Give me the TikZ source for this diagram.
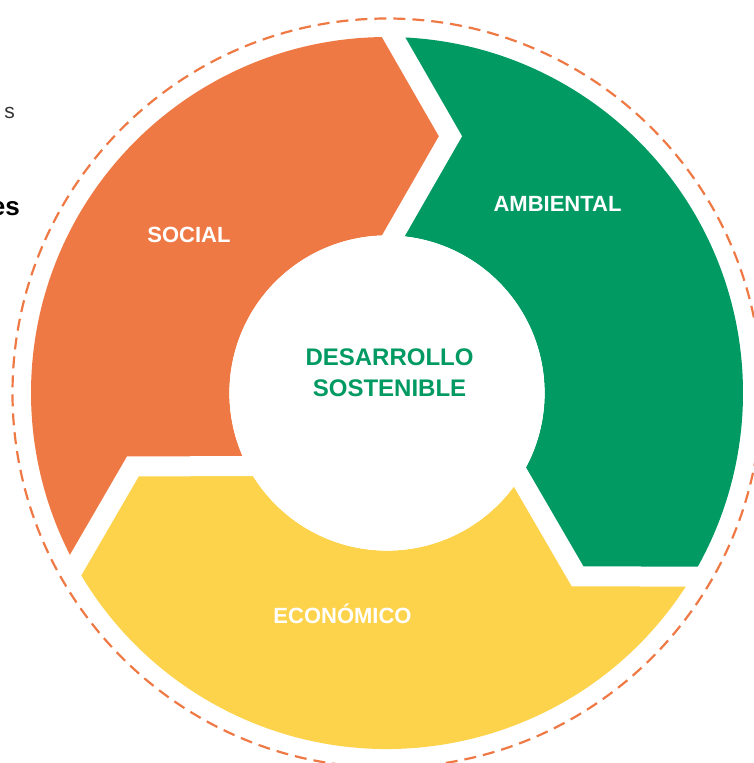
\documentclass[tikz,border=0pt]{standalone}
\usepackage{fontspec}
\setmainfont{Liberation Sans}
\usetikzlibrary{calc}
\definecolor{cOrange}{HTML}{EF7944}
\definecolor{cGreen}{HTML}{009A62}
\definecolor{cYellow}{HTML}{FDD34B}
\definecolor{cText}{HTML}{333333}
\begin{document}
\begin{tikzpicture}[x=1pt,y=1pt,
  gapline/.style={draw=white,line width=20pt,line join=miter,line cap=butt},
  lbl/.style={text=white,font=\bfseries\fontsize{22}{26}\selectfont,inner sep=0pt,anchor=base},
  center label/.style={text=cGreen,font=\bfseries\fontsize{24}{31}\selectfont,inner sep=0pt,align=center},
  ring dash/.style={draw=cOrange,line width=2.2pt,dash pattern=on 12pt off 7pt},
]
\useasboundingbox (0,0) rectangle (753,-763);
\begin{scope}[shift={(387,-393)}]
  \coordinate (Ot) at (88.954:356);
  \coordinate (At) at (76.11:264.5);
  \coordinate (It) at (87.637:157.6);
  \coordinate (Obl) at (208.954:356);
  \coordinate (Abl) at (196.11:264.5);
  \coordinate (Ibl) at (207.637:157.6);
  \coordinate (Obr) at (-31.046:356);
  \coordinate (Abr) at (-43.89:264.5);
  \coordinate (Ibr) at (-32.363:157.6);
  % segments
  \fill[cOrange] (Ot) arc[start angle=88.954,end angle=208.954,radius=356]
     -- (Abl) -- (Ibl) arc[start angle=207.637,end angle=87.637,radius=157.6]
     -- (At) -- cycle;
  \fill[cGreen] (Ot) arc[start angle=88.954,end angle=-31.046,radius=356]
     -- (Abr) -- (Ibr) arc[start angle=-32.363,end angle=87.637,radius=157.6]
     -- (At) -- cycle;
  \fill[cYellow] (Obr) arc[start angle=-31.046,end angle=-151.046,radius=356]
     -- (Abl) -- (Ibl) arc[start angle=-152.363,end angle=-32.363,radius=157.6]
     -- (Abr) -- cycle;
\end{scope}
% gaps
\draw[gapline] ($(At)!1.15!(Ot)$) -- (Ot) -- (At) -- (It) -- ($(At)!1.15!(It)$);
\draw[gapline] ($(Abr)!1.15!(Obr)$) -- (Obr) -- (Abr) -- (Ibr) -- ($(Abr)!1.15!(Ibr)$);
\draw[gapline] ($(Abl)!1.15!(Obl)$) -- (Obl) -- (Abl) -- (Ibl) -- ($(Abl)!1.15!(Ibl)$);
\fill[white] (387,-393) circle[radius=157.6];
% dashed outer circle
\draw[ring dash] (387,-393) circle[radius=374.5];
% labels
\node[lbl] (social) at (189,-242.7) {SOCIAL};
\node[lbl] (ambiental) at (557.5,-211.7) {AMBIENTAL};
\node[lbl] (economico) at (342.5,-623) {ECONÓMICO};
\node[center label] (ds) at (389.5,-372.3) {DESARROLLO\\SOSTENIBLE};
% cut-off text on the left
\node[text=cText,font=\fontsize{21}{24}\selectfont,inner sep=0pt,anchor=base east] (frag1) at (15,-118) {s};
\node[text=black,font=\bfseries\fontsize{26}{30}\selectfont,inner sep=0pt,anchor=base east] (frag2) at (20,-215) {es};
\end{tikzpicture}
\end{document}
